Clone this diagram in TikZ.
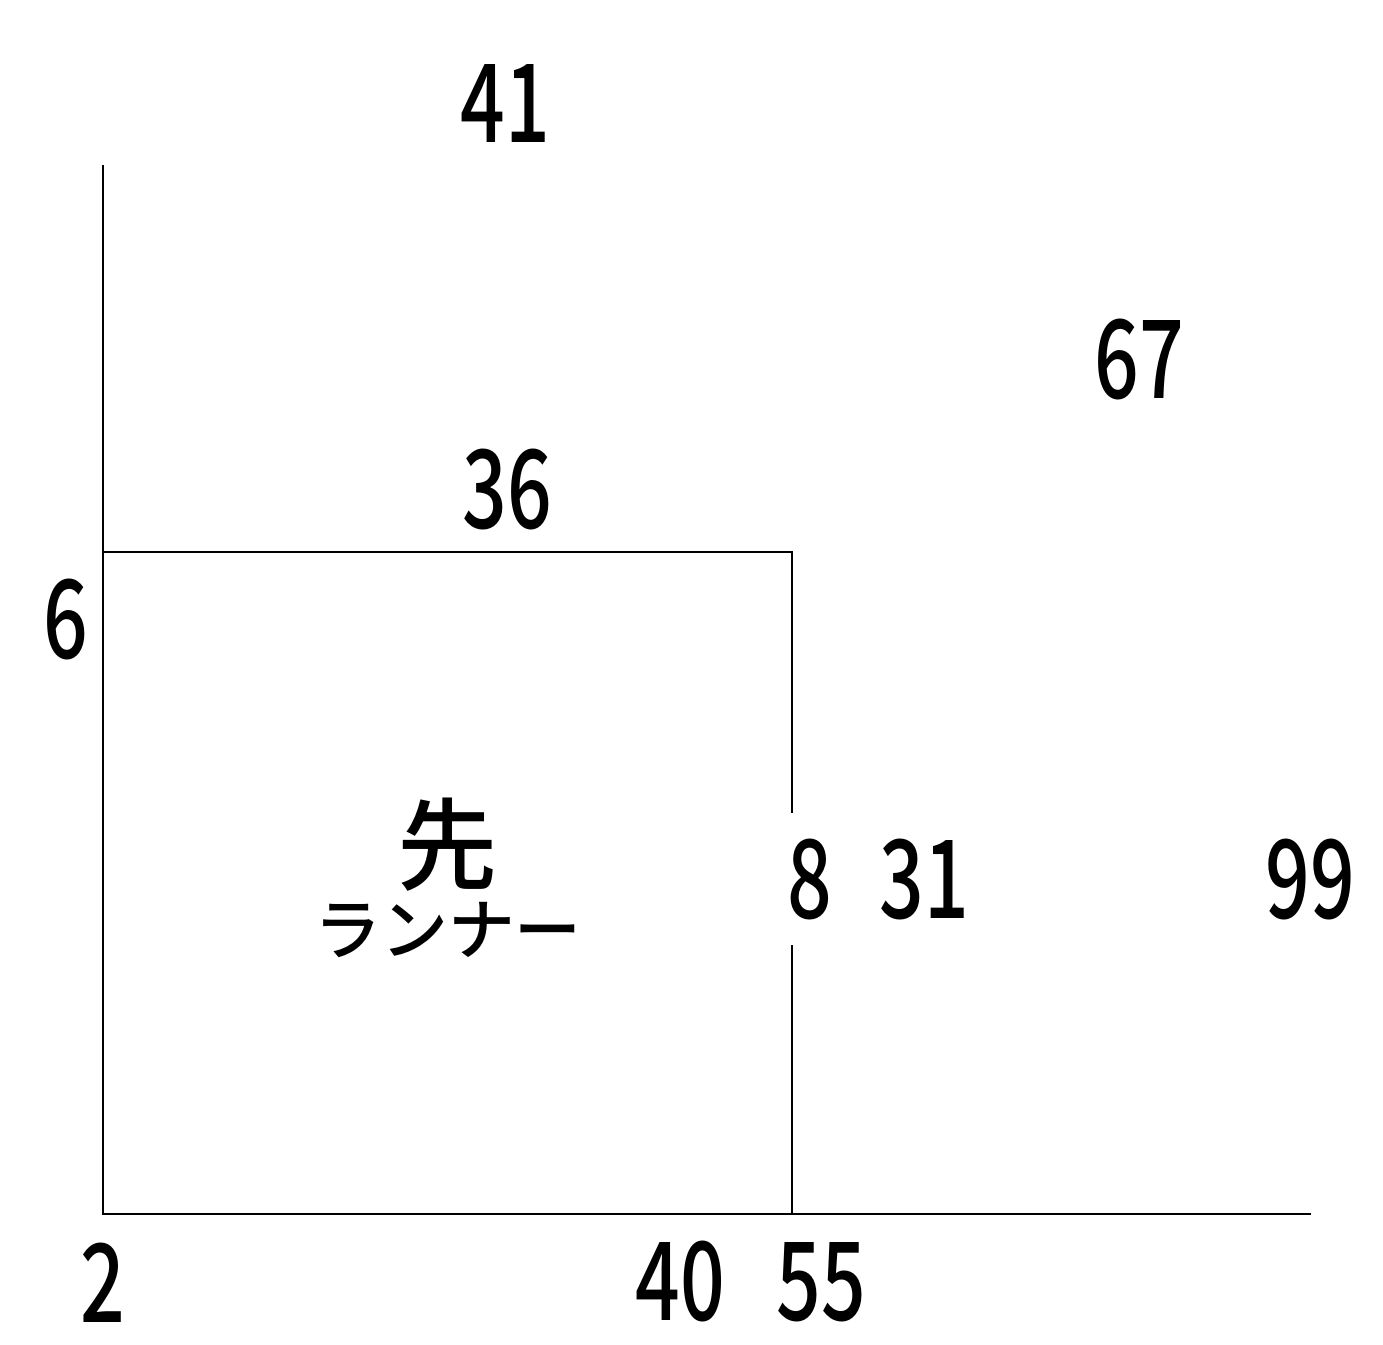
\documentclass[tikz,border=0pt]{standalone}
\usepackage{fontspec}
\newfontfamily\numfont[FakeStretch=0.72]{Noto Sans CJK JP Medium}
\newfontfamily\jpfont{Noto Sans CJK JP Medium}
\begin{document}
\begin{tikzpicture}[x=0.02cm,y=-0.02cm,
  num/.style={anchor=base,inner sep=0pt,font=\numfont\fontsize{62}{62}\selectfont},
  jp/.style={inner sep=0pt,font=\jpfont},
  edge/.style={line width=1.4pt,line cap=rect}]
\useasboundingbox (0,0) rectangle (1383,1345);
% lines
\coordinate (top) at (103,166);
\coordinate (origin) at (103,1214);
\coordinate (xend) at (1310,1214);
\coordinate (boxtl) at (103,552);
\coordinate (boxtr) at (792,552);
\coordinate (boxbr) at (792,1214);
\coordinate (gaptop) at (792,812);
\coordinate (gapbot) at (792,946);
\draw[edge] (top) -- (origin) -- (xend);
\draw[edge] (boxtl) -- (boxtr) -- (gaptop);
\draw[edge] (gapbot) -- (boxbr);
% labels
\node[num] (n41) at (505,143) {41};
\node[num] (n67) at (1139,398) {67};
\node[num] (n36) at (507,528) {36};
\node[num] (n6) at (66,658) {6};
\node[num] (n8) at (810,918) {8};
\node[num] (n31) at (924,918) {31};
\node[num] (n99) at (1310,918) {99};
\node[num] (n2) at (103,1322) {2};
\node[num] (n40) at (680,1320) {40};
\node[num] (n55) at (821,1320) {55};
\node[jp,font=\jpfont\fontsize{57}{57}\selectfont] (sen) at (448,845) {先};
\node[jp,font=\jpfont\fontsize{38}{38}\selectfont] (runner) at (448,930) {ランナー};
\end{tikzpicture}
\end{document}
